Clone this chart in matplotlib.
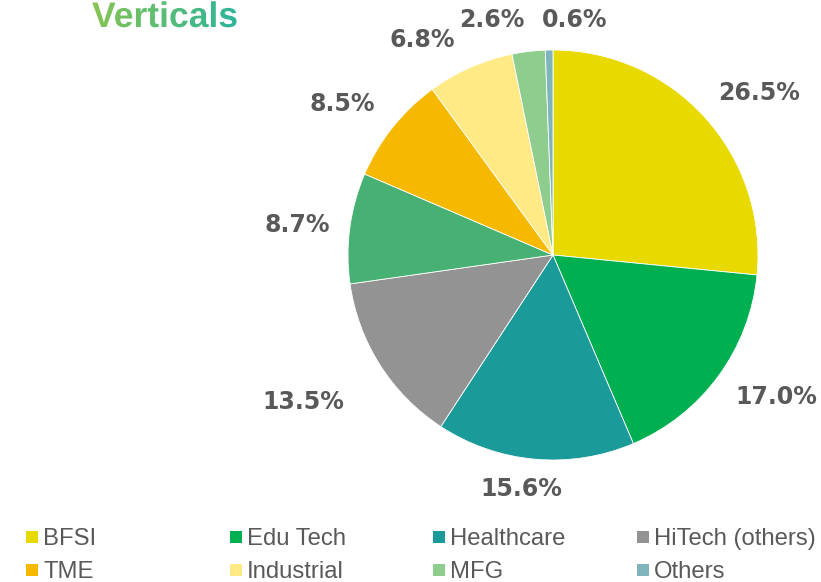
import matplotlib
matplotlib.use("Agg")
import numpy as np
import matplotlib.pyplot as plt
from matplotlib.patches import Rectangle, PathPatch
from matplotlib.textpath import TextPath
from matplotlib.font_manager import FontProperties
from matplotlib.transforms import Affine2D
from matplotlib.colors import LinearSegmentedColormap

# data, clockwise from 12 o'clock
segments = ["BFSI", "Edu Tech", "Healthcare", "HiTech (others)", "unlabelled",
            "TME", "Industrial", "MFG", "Others"]
shares = [26.5, 17.0, 15.6, 13.5, 8.7, 8.5, 6.8, 2.6, 0.6]
colors = ["#e8da00", "#00b050", "#1b9a9a", "#939393", "#47b073",
          "#f6b900", "#ffea85", "#8fcd8f", "#7fb5ba"]

# legend order (4 columns, row-major)
legend_items = ["BFSI", "Edu Tech", "Healthcare", "HiTech (others)",
                "TME", "Industrial", "MFG", "Others"]

# label placement: radial distance (in radii) and angle shift from wedge middle
label_dist = [1.277, 1.29, 1.152, 1.412, 1.257, 1.266, 1.228, 1.184, 1.151]
label_shift = [-4.1, 3.9, -2.65, -1.9, 1.0, 3.0, 7.6, 7.7, -6.4]

W, H = 821, 582
GREY = "#595959"

fig = plt.figure(figsize=(W / 100, H / 100), dpi=100)
fig.patch.set_facecolor("white")

# pie: centre at (553, 255) px from top-left, radius 205 px
cx, cy, r = 553, 255, 205
ax = fig.add_axes([(cx - r) / W, (H - cy - r) / H, 2 * r / W, 2 * r / H])
wedges, _ = ax.pie(shares, colors=colors, startangle=90, counterclock=False,
                   radius=1, wedgeprops=dict(edgecolor="white", linewidth=0.6))
ax.set_xlim(-1, 1)
ax.set_ylim(-1, 1)
ax.set_aspect("equal")
ax.axis("off")

for w, val, d, s in zip(wedges, shares, label_dist, label_shift):
    ang = np.deg2rad((w.theta1 + w.theta2) / 2 + s)
    ax.text(d * np.cos(ang), d * np.sin(ang), f"{val:.1f}%", ha="center", va="center",
            fontsize=17, fontweight="bold", color=GREY, family="DejaVu Sans", clip_on=False)

# overlay in pixel coordinates for title and legend
ov = fig.add_axes([0, 0, 1, 1], zorder=5)
ov.set_xlim(0, W)
ov.set_ylim(0, H)
ov.axis("off")
ov.patch.set_alpha(0)

# gradient title
tp = TextPath((0, 0), "Verticals", size=35.5,
              prop=FontProperties(family="Liberation Sans", weight="bold"))
tp = tp.transformed(Affine2D().translate(92, H - 27))
clip = PathPatch(tp, facecolor="none", edgecolor="none", transform=ov.transData)
ov.add_patch(clip)
bb = tp.get_extents()
grad = LinearSegmentedColormap.from_list("title", ["#86c552", "#2cb59b"])
img = ov.imshow(np.linspace(0, 1, 256).reshape(1, -1), cmap=grad, aspect="auto",
                extent=[bb.x0, bb.x1, bb.y0 - 2, bb.y1 + 2], interpolation="bilinear")
img.set_clip_path(clip)
ov.set_xlim(0, W)
ov.set_ylim(0, H)

# legend
col_x = [26, 230, 433, 637]
row_y = [537, 570]
for i, name in enumerate(legend_items):
    x = col_x[i % 4]
    y = H - row_y[i // 4]
    c = colors[segments.index(name)]
    ov.add_patch(Rectangle((x, y - 6), 12, 12, facecolor=c, edgecolor="none"))
    ov.text(x + 17, y - 2, name, ha="left", va="center", fontsize=17.2,
            family="Liberation Sans", color=GREY)

fig.savefig("out.png", dpi=100, facecolor="white")
